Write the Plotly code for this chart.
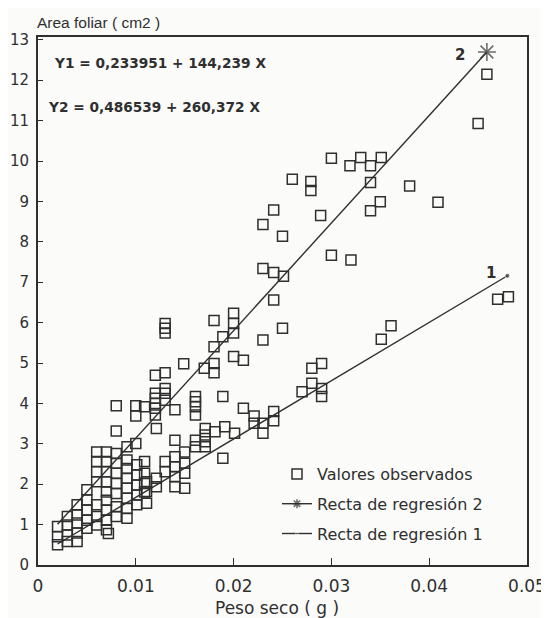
import plotly.graph_objects as go

# Observed values: dry weight (g) and leaf area (cm2)
obs_x = [
    0.0459, 0.0450,
    0.0300, 0.0319, 0.0330, 0.0340, 0.0351,
    0.0260, 0.0279, 0.0279, 0.0340, 0.0380, 0.0409, 0.0350, 0.0340,
    0.0241, 0.0230, 0.0250, 0.0289,
    0.0300, 0.0320, 0.0230, 0.0241, 0.0251,
    0.0241, 0.0250, 0.0230, 0.0361, 0.0351,
    0.0470, 0.0481,
    0.0280, 0.0290, 0.0280, 0.0270, 0.0290, 0.0290,
    0.0241, 0.0221, 0.0230, 0.0241, 0.0230, 0.0221,
    0.0130, 0.0130, 0.0130,
    0.0180, 0.0200, 0.0200, 0.0200,
    0.0189, 0.0180, 0.0200, 0.0210,
    0.0149, 0.0170, 0.0180, 0.0180,
    0.0120, 0.0130,
    0.0120, 0.0120, 0.0120, 0.0120, 0.0120,
    0.0130, 0.0130, 0.0130,
    0.0109, 0.0140,
    0.0161, 0.0161, 0.0161, 0.0161,
    0.0189, 0.0210,
    0.0080, 0.0100, 0.0100,
    0.0080, 0.0121, 0.0100, 0.0091,
    0.0140, 0.0171, 0.0171, 0.0171, 0.0171,
    0.0161, 0.0161, 0.0181, 0.0191, 0.0201,
    0.0189,
    0.0109, 0.0109, 0.0109, 0.0109,
    0.0130, 0.0130,
    0.0140, 0.0140, 0.0140, 0.0140,
    0.0150, 0.0150, 0.0150, 0.0150,
    0.0060, 0.0060, 0.0060, 0.0060,
    0.0070, 0.0070, 0.0070, 0.0070, 0.0070, 0.0070,
    0.0080, 0.0080, 0.0080, 0.0080, 0.0080,
    0.0091, 0.0091, 0.0091, 0.0091, 0.0091, 0.0091, 0.0091,
    0.0101, 0.0101, 0.0101, 0.0101, 0.0101,
    0.0111, 0.0111, 0.0111,
    0.0121, 0.0121,
    0.0050, 0.0050,
    0.0040, 0.0040,
    0.0030, 0.0030, 0.0030, 0.0030,
    0.0020, 0.0020, 0.0020,
    0.0040, 0.0040, 0.0040,
    0.0050, 0.0050, 0.0050,
    0.0060, 0.0060, 0.0060,
    0.0070, 0.0070, 0.0070,
    0.0080, 0.0080,
    0.0072,
]
obs_y = [
    12.15, 10.93,
    10.07, 9.88, 10.09, 9.88, 10.09,
    9.55, 9.49, 9.27, 9.47, 9.38, 8.98, 8.99, 8.77,
    8.79, 8.43, 8.14, 8.65,
    7.67, 7.55, 7.34, 7.24, 7.15,
    6.56, 5.86, 5.57, 5.92, 5.59,
    6.58, 6.64,
    4.87, 4.99, 4.50, 4.29, 4.37, 4.17,
    3.80, 3.69, 3.51, 3.57, 3.26, 3.51,
    5.98, 5.86, 5.74,
    6.05, 6.23, 5.98, 5.74,
    5.65, 5.40, 5.16, 5.07,
    4.98, 4.87, 4.99, 4.76,
    4.70, 4.76,
    4.25, 4.13, 4.00, 3.88, 3.71,
    4.37, 4.25, 4.08,
    3.92, 3.84,
    4.17, 4.04, 3.92, 3.71,
    4.17, 3.88,
    3.94, 3.94, 3.69,
    3.32, 3.38, 3.01, 2.93,
    3.09, 3.38, 3.22, 3.05, 2.93,
    3.09, 2.93, 3.30, 3.42, 3.26,
    2.64,
    2.56, 2.27, 2.02, 1.81,
    2.56, 2.31,
    2.68, 2.43, 2.19, 1.94,
    2.80, 2.52, 2.27, 1.90,
    2.80, 2.56, 2.31, 2.06,
    2.80, 2.56, 2.31, 2.06, 1.81, 1.60,
    2.76, 2.52, 2.27, 2.02, 1.77,
    2.60, 2.39, 2.15, 1.90, 1.65, 1.40, 1.16,
    2.48, 2.23, 1.98, 1.73, 1.49,
    2.06, 1.82, 1.53,
    2.15, 1.94,
    1.86, 1.61,
    1.49, 1.24,
    1.20, 0.99, 0.74, 0.58,
    0.95, 0.70, 0.50,
    1.04, 0.79, 0.58,
    1.36, 1.11, 0.91,
    1.49, 1.20, 0.99,
    1.36, 1.11, 0.87,
    1.44, 1.20,
    0.78,
]

# Regression lines (end points as drawn)
reg2_x = [0.0020, 0.0459]
reg2_y = [1.01, 12.70]
reg1_x = [0.0020, 0.0480]
reg1_y = [0.52, 7.16]

x_ticks = [0, 0.01, 0.02, 0.03, 0.04, 0.05]
x_tick_labels = ["0", "0.01", "0.02", "0.03", "0.04", "0.05"]
y_ticks = list(range(0, 14))

eq1 = "Y1 = 0,233951 + 144,239 X"
eq2 = "Y2 = 0,486539 + 260,372 X"

INK = "#2f2f2f"
BG = "#fbfbfa"
FONT = "DejaVu Sans, Verdana, sans-serif"
FONT2 = "Liberation Sans, Arial, sans-serif"

fig = go.Figure()
fig.add_trace(go.Scatter(
    x=obs_x, y=obs_y, mode="markers", name="Valores observados",
    legendgroup="a",
    marker=dict(symbol="square-open", size=10, color=INK, line=dict(width=1.5, color=INK)),
))
fig.add_trace(go.Scatter(
    x=reg2_x, y=reg2_y, mode="lines+markers", name="Recta de regresión 2",
    legendgroup="b",
    line=dict(color=INK, width=1.4),
    marker=dict(symbol="asterisk-open", size=[0, 15], color=INK, line=dict(width=1.6, color=INK)),
))
fig.add_trace(go.Scatter(
    x=reg1_x, y=reg1_y, mode="lines+markers", name="Recta de regresión 1",
    legendgroup="c",
    line=dict(color=INK, width=1.4),
    marker=dict(symbol="circle", size=[0, 5], color=INK),
))

# page body adds an 8 px offset; work in window pixels
OFF = 8
W, H = 549 - OFF, 618 - OFF
PL, PR, PT, PB = 38, 527, 37, 565  # plot box in window pixels
L = PL - OFF
T = PT - OFF
R = W - (PR - OFF)
B = H - (PB - OFF)
pw, ph = PR - PL, PB - PT

def px(xp):
    return (xp - PL) / pw

def py(yp):
    return (PB - yp) / ph

annotations = [
    dict(text="Area foliar ( cm2 )", x=px(35), y=py(22), xref="paper", yref="paper",
         xanchor="left", yanchor="middle", showarrow=False, font=dict(family=FONT2, size=15.5, color=INK)),
    dict(text="<b>" + eq1 + "</b>", x=px(52), y=py(63), xref="paper", yref="paper",
         xanchor="left", yanchor="middle", showarrow=False, font=dict(size=13.7, color=INK)),
    dict(text="<b>" + eq2 + "</b>", x=px(46), y=py(107), xref="paper", yref="paper",
         xanchor="left", yanchor="middle", showarrow=False, font=dict(size=13.7, color=INK)),
    dict(text="<b>2</b>", x=px(460), y=py(55), xref="paper", yref="paper",
         xanchor="center", yanchor="middle", showarrow=False, font=dict(size=15, color=INK)),
    dict(text="<b>1</b>", x=px(491), y=py(273), xref="paper", yref="paper",
         xanchor="center", yanchor="middle", showarrow=False, font=dict(size=15, color=INK)),
    dict(text="Peso seco ( g )", x=px(277), y=py(608), xref="paper", yref="paper",
         xanchor="center", yanchor="middle", showarrow=False, font=dict(size=17, color=INK)),
]

fig.update_layout(
    width=W, height=H,
    margin=dict(l=L, r=R, t=T, b=B, pad=0),
    paper_bgcolor=BG, plot_bgcolor=BG,
    font=dict(family=FONT, color=INK, size=16),
    showlegend=True,
    legend=dict(x=px(277), y=py(457), xanchor="left", yanchor="top",
                bgcolor="rgba(0,0,0,0)", font=dict(size=16, color=INK),
                traceorder="grouped", tracegroupgap=6),
    annotations=annotations,
)
fig.update_xaxes(
    range=[0, 0.05], tickvals=x_ticks, ticktext=x_tick_labels, automargin=False,
    showgrid=False, zeroline=False, showline=True, linecolor=INK, linewidth=2, mirror=True,
    ticks="inside", ticklen=7, tickwidth=1.2, tickcolor=INK,
    tickfont=dict(size=17, color=INK), ticklabelstandoff=5,
)
fig.update_yaxes(
    range=[0, 13.07], tickvals=y_ticks, automargin=False,
    showgrid=False, zeroline=False, showline=True, linecolor=INK, linewidth=2, mirror=True,
    ticks="inside", ticklen=5, tickwidth=1.2, tickcolor=INK,
    tickfont=dict(size=15, color=INK), ticklabelstandoff=4,
)

fig.write_html("out.html")
